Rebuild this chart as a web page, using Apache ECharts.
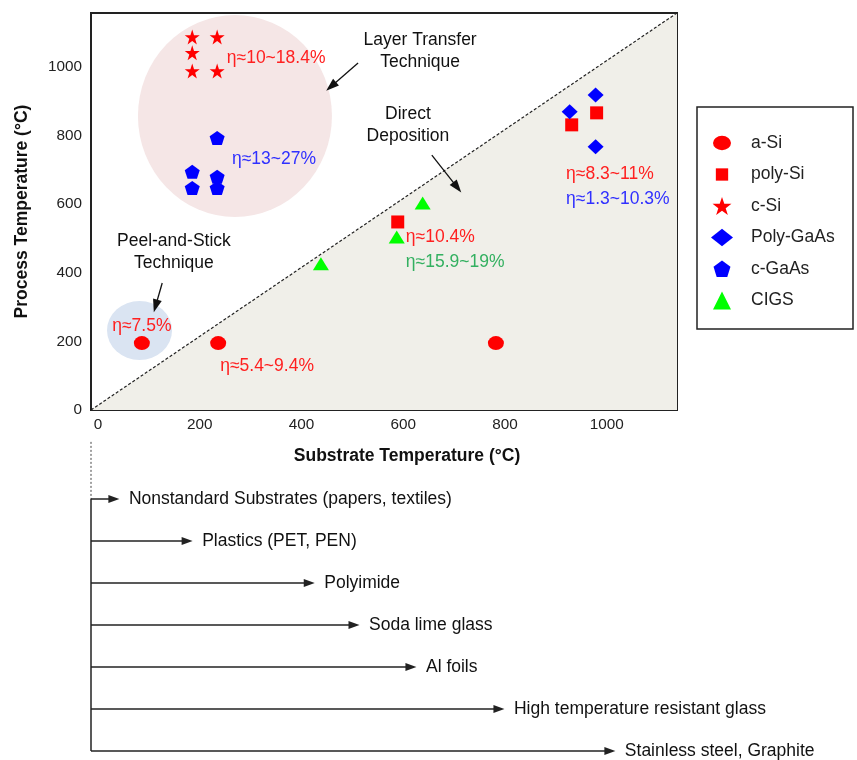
<!DOCTYPE html>
<html><head><meta charset="utf-8">
<script src="https://cdn.jsdelivr.net/npm/echarts@6/dist/echarts.min.js"></script>
<style>html,body{margin:0;padding:0;background:#fff}#c{width:857px;height:760px}</style>
</head><body><div id="c"></div>
<script>
// ---- data ----
const xTicks = [0, 200, 400, 600, 800, 1000];
const yTicks = [0, 200, 400, 600, 800, 1000];
const aSi      = [[86, 195], [236, 195], [782, 195]];
const polySi   = [[931, 831], [980, 866], [589, 548]];
const cSi      = [[185, 1087], [234, 1087], [185, 1041], [185, 988], [234, 988]];
const polyGaAs = [[927, 869], [978, 918], [978, 767]];
const cGaAs    = [[234, 793], [185, 694], [185, 647], [234, 680], [234, 647]];
const cigs     = [[438, 426], [638, 603], [587, 504]];
const substrates = ['Nonstandard Substrates (papers, textiles)', 'Plastics (PET, PEN)', 'Polyimide',
  'Soda lime glass', 'Al foils', 'High temperature resistant glass', 'Stainless steel, Graphite'];
const substrateMaxTemp = [39, 183, 423, 511, 623, 796, 1014];

// ---- layout ----
const X_MIN = -14, X_MAX = 1138, Y_MAX = 1157;
const FONT = '"Liberation Sans", Arial, sans-serif';
const RED = '#ff0000', BLUE = '#0000ff', GREEN = '#00ff00';
const FS = 17.5;
const notes = [
  { t: 'η≈10~18.4%', p: [253, 1026], c: '#ff2020', a: 'left' },
  { t: 'η≈13~27%', p: [263, 732], c: '#3030ff', a: 'left' },
  { t: 'Layer Transfer\nTechnique', p: [633, 1046], c: '#111', a: 'center' },
  { t: 'Direct\nDeposition', p: [609, 831], c: '#111', a: 'center' },
  { t: 'η≈8.3~11%', p: [920, 688], c: '#ff2020', a: 'left' },
  { t: 'η≈1.3~10.3%', p: [920, 615], c: '#3030ff', a: 'left' },
  { t: 'η≈10.4%', p: [605, 504], c: '#ff2020', a: 'left' },
  { t: 'η≈15.9~19%', p: [605, 431], c: '#33b060', a: 'left' },
  { t: 'Peel-and-Stick\nTechnique', p: [149, 459], c: '#111', a: 'center' },
  { t: 'η≈7.5%', p: [86, 245], c: '#ff2020', a: 'center' },
  { t: 'η≈5.4~9.4%', p: [240, 128], c: '#ff2020', a: 'left' }
];
const noteArrows = [
  [[511, 1011], [458, 943]],
  [[656, 743], [706, 649]],
  [[126, 370], [113, 303]]
];
const TRI = 'path://M50,0 L100,100 L0,100 Z';
const STAR = 'path://M50,0 L61.8,35.1 L98.9,35.4 L69.1,57.6 L80.2,93.1 L50,71.5 L19.8,93.1 L30.9,57.6 L1.1,35.4 L38.2,35.1 Z';
const PENT = 'path://M50,2 L98,37 L80,95 L20,95 L2,37 Z';

const chart = echarts.init(document.getElementById('c'), null, { renderer: 'canvas' });

const ptSeries = (name, data, symbol, size) => ({
  name, type: 'scatter', data, symbol, symbolSize: size, z: 5,
  itemStyle: { color: name === 'CIGS' ? GREEN : (['a-Si', 'poly-Si', 'c-Si'].includes(name) ? RED : BLUE), opacity: 1 }
});

const option = {
  animation: false,
  backgroundColor: '#fff',
  textStyle: { fontFamily: FONT },
  grid: [
    { left: 91, top: 13, width: 586, height: 397, show: true, borderColor: '#222', borderWidth: 2, backgroundColor: '#fff', z: 0 },
    { left: 91, top: 436, width: 586, height: 315 }
  ],
  xAxis: [
    { type: 'value', gridIndex: 0, min: X_MIN, max: X_MAX,
      name: 'Substrate Temperature (°C)', nameLocation: 'middle', nameGap: 37,
      nameTextStyle: { fontFamily: FONT, fontSize: FS, fontWeight: 'bold', color: '#111', padding: [0, 0, 0, 46] },
      axisLine: { show: true, onZero: false, lineStyle: { color: '#222', width: 2 } },
      axisTick: { show: false }, splitLine: { show: false },
      axisLabel: { customValues: xTicks, formatter: v => String(v), fontFamily: FONT, fontSize: 15.3, color: '#222', margin: 7 } },
    { type: 'value', gridIndex: 1, min: X_MIN, max: X_MAX, show: false }
  ],
  yAxis: [
    { type: 'value', gridIndex: 0, min: 0, max: Y_MAX,
      name: 'Process Temperature (°C)', nameLocation: 'middle', nameGap: 60,
      nameTextStyle: { fontFamily: FONT, fontSize: FS, fontWeight: 'bold', color: '#111' },
      axisLine: { show: true, onZero: false, lineStyle: { color: '#222', width: 2 } },
      axisTick: { show: false }, splitLine: { show: false },
      axisLabel: { customValues: yTicks, formatter: v => String(v), fontFamily: FONT, fontSize: 15.3, color: '#222', margin: 9 } },
    { type: 'value', gridIndex: 1, min: -1.5, max: 6, inverse: true, show: false }
  ],
  legend: {
    data: [
      { name: 'a-Si', icon: 'path://M0,8 A10,8 0 1,0 20,8 A10,8 0 1,0 0,8 Z M-1,-2 M21,18' },
      { name: 'poly-Si', icon: 'path://M-3,-3 M0,0 L13,0 L13,13 L0,13 Z M16,16' },
      { name: 'c-Si', icon: STAR },
      { name: 'Poly-GaAs', icon: 'path://M12,0 L24,9.5 L12,19 L0,9.5 Z' },
      { name: 'c-GaAs', icon: 'path://M-1,-1 M50,2 L98,37 L80,95 L20,95 L2,37 Z M101,101' },
      { name: 'CIGS', icon: TRI }
    ],
    orient: 'vertical', left: 706, top: 129, itemWidth: 22, itemHeight: 18, itemGap: 13.5,
    selectedMode: false,
    textStyle: { fontFamily: FONT, fontSize: FS, color: '#222', padding: [0, 0, 4, 13] }
  },
  graphic: [
    { type: 'rect', shape: { x: 697, y: 107, width: 156, height: 222 }, style: { fill: 'none', stroke: '#222', lineWidth: 1.5 }, z: 100 }
  ],
  series: [
    { name: 'diag', type: 'line', xAxisIndex: 0, yAxisIndex: 0, data: [[X_MIN, 0], [X_MAX, Y_MAX]],
      symbol: 'none', z: 1, clip: true,
      lineStyle: { color: '#222', width: 1.2, type: [3, 2] },
      areaStyle: { color: '#f0efe9', opacity: 1 } },
    { name: 'regions', type: 'scatter', xAxisIndex: 0, yAxisIndex: 0, z: 2, silent: true,
      data: [
        { value: [269, 857], symbolSize: [194, 202], itemStyle: { color: '#f5e6e6', opacity: 1 } },
        { value: [81.4, 232], symbolSize: [65, 59], itemStyle: { color: '#dae4f2', opacity: 1 } }
      ] },
    ptSeries('a-Si', aSi, 'circle', [16, 14]),
    ptSeries('poly-Si', polySi, 'rect', 13),
    ptSeries('c-Si', cSi, STAR, 15),
    ptSeries('Poly-GaAs', polyGaAs, 'diamond', [16, 15]),
    ptSeries('c-GaAs', cGaAs, PENT, [15, 14]),
    ptSeries('CIGS', cigs, 'triangle', [16, 13]),
    { name: 'notes', type: 'scatter', xAxisIndex: 0, yAxisIndex: 0, symbolSize: 0, z: 6, silent: true,
      itemStyle: { opacity: 1 },
      data: notes.map(n => ({
        name: n.t, value: n.p,
        label: { show: true, formatter: '{b}', position: n.a === 'left' ? 'right' : 'inside', distance: 0,
          align: n.a, verticalAlign: 'middle', color: n.c, fontFamily: FONT, fontSize: FS, lineHeight: 22 }
      })),
      markLine: {
        silent: true, symbol: ['none', TRI], symbolSize: [9, 13],
        itemStyle: { color: '#111' },
        lineStyle: { color: '#111', width: 1.3, type: 'solid', opacity: 1 }, label: { show: false },
        data: noteArrows.map(a => [{ coord: a[0] }, { coord: a[1] }])
      } },
    { name: 'substrateAxis', type: 'line', xAxisIndex: 1, yAxisIndex: 1, symbol: 'none', clip: false,
      data: [[X_MIN, 0], [X_MIN, substrates.length - 1]],
      lineStyle: { color: '#222', width: 1.5 },
      markLine: {
        silent: true, symbol: ['none', TRI], symbolSize: [8, 11],
        itemStyle: { color: '#111' },
        lineStyle: { color: '#222', width: 1.5, type: 'solid', opacity: 1 },
        label: { show: true, position: 'end', formatter: '{b}', distance: 15, color: '#111', fontFamily: FONT, fontSize: FS },
        data: substrates.map((s, i) => [{ coord: [X_MIN, i], name: s }, { coord: [substrateMaxTemp[i] - 8, i] }])
      } },
    { name: 'substrateAxisTop', type: 'line', xAxisIndex: 1, yAxisIndex: 1, symbol: 'none', clip: false,
      data: [[X_MIN, -1.36], [X_MIN, 0]],
      lineStyle: { color: '#444', width: 1, type: [2, 2] } }
  ]
};
chart.setOption(option);
</script>
</body></html>
